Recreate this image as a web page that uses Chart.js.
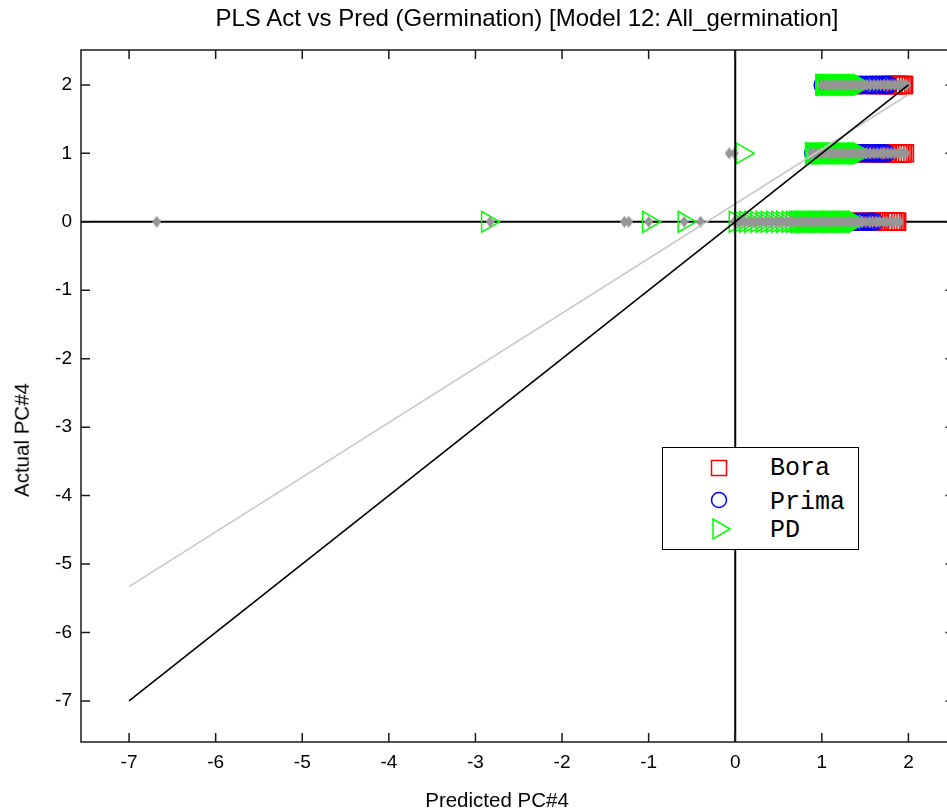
<!DOCTYPE html>
<html><head><meta charset="utf-8">
<script src="https://cdn.jsdelivr.net/npm/chart.js@4.4.1/dist/chart.umd.min.js"></script>
<style>
html,body{margin:0;padding:0;background:#fff;overflow:hidden;width:947px;height:812px}
#wrap{position:relative;width:968px;height:812px}
#c{position:absolute;left:0;top:0}
.t{position:absolute;font-family:"Liberation Sans",Arial,sans-serif;color:#000;white-space:nowrap;line-height:1}
#title{left:527px;top:6px;font-size:24px;transform:translateX(-50%)}
#xlab{left:497px;top:790px;font-size:20.5px;transform:translateX(-50%)}
#ylab{left:22px;top:440px;font-size:20.5px;transform:translate(-50%,-50%) rotate(-90deg)}
#legend{position:absolute;left:662px;top:447px;width:197px;height:103px;border:1.5px solid #000;background:#fff;box-sizing:border-box}
#legend svg{position:absolute;overflow:visible}
#legend .lt{position:absolute;left:107px;font-family:"Liberation Mono","Courier New",monospace;font-size:25px;line-height:1;transform:translateY(-50%)}
</style></head><body>
<div id="wrap">
<canvas id="c" width="968" height="812" style="width:968px;height:812px"></canvas>
<div class="t" id="title">PLS Act vs Pred (Germination) [Model 12: All_germination]</div>
<div class="t" id="xlab">Predicted PC#4</div>
<div class="t" id="ylab">Actual PC#4</div>
<div id="legend">
  <svg style="left:56px;top:20px" width="1" height="1"><rect x="-7.5" y="-7.5" width="15" height="15" fill="none" stroke="#ff0000" stroke-width="1.5"/></svg>
  <div class="lt" style="top:20px">Bora</div>
  <svg style="left:56px;top:52px" width="1" height="1"><circle cx="0" cy="0" r="7.5" fill="none" stroke="#0000ff" stroke-width="1.5"/></svg>
  <div class="lt" style="top:54px">Prima</div>
  <svg style="left:56px;top:81px" width="1" height="1"><polygon points="-6,-10 11,0 -6,10" fill="none" stroke="#00ff00" stroke-width="1.5"/></svg>
  <div class="lt" style="top:82px">PD</div>
</div>
</div>
<script>
// ---- data ----
const xTicks = [-7,-6,-5,-4,-3,-2,-1,0,1,2];
const yTicks = [-7,-6,-5,-4,-3,-2,-1,0,1,2];

// Bora (red squares)
const boraPred = [1.12,1.25,1.38,1.50,1.60,1.67,1.72,1.76,1.80,1.83,1.86,1.88,1.90,1.92,1.94,1.95,
                  1.10,1.24,1.37,1.49,1.59,1.66,1.71,1.75,1.79,1.82,1.85,1.88,1.90,1.92,1.94,1.96,
                  1.02,1.15,1.28,1.40,1.50,1.58,1.63,1.67,1.71,1.74,1.77,1.80,1.82,1.84,1.86,1.87];
const boraAct  = [2,2,2,2,2,2,2,2,2,2,2,2,2,2,2,2,
                  1,1,1,1,1,1,1,1,1,1,1,1,1,1,1,1,
                  0,0,0,0,0,0,0,0,0,0,0,0,0,0,0,0];

// Prima (blue circles)
const primaPred = [1.01,1.06,1.11,1.16,1.21,1.26,1.31,1.36,1.41,1.46,1.51,1.55,1.59,1.63,1.67,1.71,1.74,1.77,
                   0.90,0.95,1.00,1.05,1.10,1.15,1.20,1.25,1.30,1.35,1.40,1.45,1.49,1.53,1.57,1.61,1.65,1.68,1.71,1.74,
                   0.80,0.85,0.90,0.95,1.00,1.05,1.10,1.15,1.20,1.25,1.30,1.35,1.40,1.44,1.48,1.52,1.55,1.58,1.61];
const primaAct  = [2,2,2,2,2,2,2,2,2,2,2,2,2,2,2,2,2,2,
                   1,1,1,1,1,1,1,1,1,1,1,1,1,1,1,1,1,1,1,1,
                   0,0,0,0,0,0,0,0,0,0,0,0,0,0,0,0,0,0,0];

// PD (green triangles)
const pdPred = [1.00,1.01,1.03,1.05,1.07,1.08,1.10,1.12,1.14,1.16,1.17,1.19,1.21,1.23,1.25,1.27,1.28,1.30,1.32,1.34,1.36,1.38,1.40,1.42,1.44,
                0.08,
                0.88,0.89,0.91,0.93,0.95,0.97,0.99,1.01,1.02,1.04,1.06,1.08,1.10,1.12,1.14,1.16,1.18,1.20,1.22,1.24,1.26,1.28,1.30,1.32,1.34,1.36,1.38,1.40,1.42,1.44,
                -2.86,-1.00,-0.59,
                0.00,0.06,0.12,0.18,0.25,0.31,0.37,0.43,0.49,0.55,0.61,0.66,
                0.70,0.72,0.74,0.76,0.78,0.80,0.82,0.84,0.86,0.88,0.90,0.92,0.94,0.96,0.98,1.00,1.02,1.04,1.06,1.08,
                1.10,1.12,1.14,1.16,1.18,1.20,1.22,1.24,1.26,1.28,1.30,1.32,1.34,1.36,1.38];
const pdAct  = [2,2,2,2,2,2,2,2,2,2,2,2,2,2,2,2,2,2,2,2,2,2,2,2,2,
                1,
                1,1,1,1,1,1,1,1,1,1,1,1,1,1,1,1,1,1,1,1,1,1,1,1,1,1,1,1,1,1,
                0,0,0,
                0,0,0,0,0,0,0,0,0,0,0,0,
                0,0,0,0,0,0,0,0,0,0,0,0,0,0,0,0,0,0,0,0,
                0,0,0,0,0,0,0,0,0,0,0,0,0,0,0];

// all samples (grey markers)
const allPred = [1.00,1.04,1.08,1.12,1.16,1.20,1.24,1.28,1.32,1.36,1.40,1.44,1.48,1.52,1.56,1.60,1.64,1.68,1.72,1.76,1.80,1.84,1.88,1.92,1.95,1.98,
                 -0.07,-0.01,0.88,0.92,0.96,1.00,1.04,1.08,1.12,1.16,1.20,1.24,1.28,1.32,1.36,1.40,1.44,1.48,1.52,1.56,1.60,1.64,1.68,1.72,1.76,1.80,1.84,1.88,1.92,1.95,1.97,
                 -6.68,-2.83,-1.28,-1.23,-1.00,-0.59,-0.40,
                 -0.01,0.03,0.07,0.11,0.15,0.19,0.23,0.27,0.31,0.35,0.39,0.43,0.47,0.51,0.55,0.59,0.63,0.67,0.71,0.75,0.79,0.83,0.87,0.91,0.95,0.99,
                 1.03,1.07,1.11,1.15,1.19,1.23,1.27,1.31,1.35,1.39,1.43,1.47,1.51,1.55,1.59,1.63,1.67,1.71,1.75,1.79,1.83,1.87,1.90];
const allAct  = [2,2,2,2,2,2,2,2,2,2,2,2,2,2,2,2,2,2,2,2,2,2,2,2,2,2,
                 1,1,1,1,1,1,1,1,1,1,1,1,1,1,1,1,1,1,1,1,1,1,1,1,1,1,1,1,1,1,1,
                 0,0,0,0,0,0,0,
                 0,0,0,0,0,0,0,0,0,0,0,0,0,0,0,0,0,0,0,0,0,0,0,0,0,0,
                 0,0,0,0,0,0,0,0,0,0,0,0,0,0,0,0,0,0,0,0,0,0,0];

// reference lines
const idealPred = [-7, 2];
const idealAct  = [-7, 2];
const fitPred   = [-7, 2];
const fitAct    = [-5.33, 1.86];

// ---- build ----
const pts = (xs, ys) => xs.map((v, i) => ({x: v, y: ys[i]}));

const greyMark = document.createElement('canvas');
greyMark.width = 9; greyMark.height = 12;
(() => { const g = greyMark.getContext('2d'); g.fillStyle = '#969696';
  g.beginPath(); g.moveTo(4.5,0); g.lineTo(9,6); g.lineTo(4.5,12); g.lineTo(0,6); g.closePath(); g.fill(); })();

const FONT = '"Liberation Sans", Arial, sans-serif';

const axesPlugin = {
  id: 'axesDeco',
  beforeDatasetsDraw(chart) {
    const {ctx, chartArea: a, scales: {y}} = chart;
    ctx.save();
    ctx.strokeStyle = '#000'; ctx.lineWidth = 2;
    const y0 = y.getPixelForValue(0);
    ctx.beginPath(); ctx.moveTo(a.left, y0); ctx.lineTo(a.right, y0); ctx.stroke();
    ctx.restore();
  },
  afterDatasetsDraw(chart) {
    const {ctx, chartArea: a, scales: {x, y}} = chart;
    ctx.save();
    ctx.strokeStyle = '#000'; ctx.lineWidth = 2;
    const x0 = x.getPixelForValue(0);
    ctx.beginPath(); ctx.moveTo(x0, a.top); ctx.lineTo(x0, a.bottom); ctx.stroke();
    ctx.lineWidth = 1.5; ctx.strokeStyle = '#1a1a1a';
    ctx.strokeRect(a.left, a.top, a.right - a.left, a.bottom - a.top);
    const L = 9;
    ctx.beginPath();
    x.ticks.forEach(t => { const p = x.getPixelForValue(t.value);
      ctx.moveTo(p, a.bottom); ctx.lineTo(p, a.bottom - L);
      ctx.moveTo(p, a.top); ctx.lineTo(p, a.top + L); });
    y.ticks.forEach(t => { const p = y.getPixelForValue(t.value);
      ctx.moveTo(a.left, p); ctx.lineTo(a.left + L, p);
      ctx.moveTo(a.right, p); ctx.lineTo(a.right - L, p); });
    ctx.stroke();
    ctx.restore();
  }
};

new Chart(document.getElementById('c'), {
  type: 'scatter',
  data: { datasets: [
    { label: 'ideal', data: pts(idealPred, idealAct), showLine: true, borderColor: '#000', borderWidth: 1.6, pointRadius: 0, order: 0 },
    { label: 'fit', data: pts(fitPred, fitAct), showLine: true, borderColor: '#c8c8c8', borderWidth: 1.6, pointRadius: 0, order: 1 },
    { label: 'all', data: pts(allPred, allAct), pointStyle: greyMark, pointRadius: 5, order: 2 },
    { label: 'PD', data: pts(pdPred, pdAct), pointStyle: 'triangle', rotation: 90, pointRadius: 12,
      borderColor: '#00ff00', backgroundColor: 'rgba(0,0,0,0)', borderWidth: 1.5, order: 3 },
    { label: 'Prima', data: pts(primaPred, primaAct), pointStyle: 'circle', pointRadius: 8.5,
      borderColor: '#0000ff', backgroundColor: 'rgba(0,0,0,0)', borderWidth: 1.5, order: 4 },
    { label: 'Bora', data: pts(boraPred, boraAct), pointStyle: 'rect', pointRadius: 12,
      borderColor: '#ff0000', backgroundColor: 'rgba(0,0,0,0)', borderWidth: 1.5, order: 5 }
  ]},
  options: {
    responsive: false, animation: false, events: [],
    layout: { padding: { top: 50, right: 7, left: 0, bottom: 0 } },
    plugins: { legend: { display: false }, title: { display: false }, tooltip: { enabled: false } },
    scales: {
      x: { type: 'linear', min: -7.555, max: 2.532,
        afterBuildTicks: s => { s.ticks = xTicks.map(v => ({value: v})); },
        afterFit: s => { s.height = 70; },
        grid: { display: false, drawTicks: false }, border: { display: false },
        ticks: { color: '#000', font: { family: FONT, size: 19 }, padding: 9, maxRotation: 0, autoSkip: false } },
      y: { type: 'linear', min: -7.6, max: 2.51,
        afterBuildTicks: s => { s.ticks = yTicks.map(v => ({value: v})); },
        afterFit: s => { s.width = 81; },
        grid: { display: false, drawTicks: false }, border: { display: false },
        ticks: { color: '#000', font: { family: FONT, size: 19 }, padding: 9, autoSkip: false } }
    }
  },
  plugins: [axesPlugin]
});
</script>
</body></html>
